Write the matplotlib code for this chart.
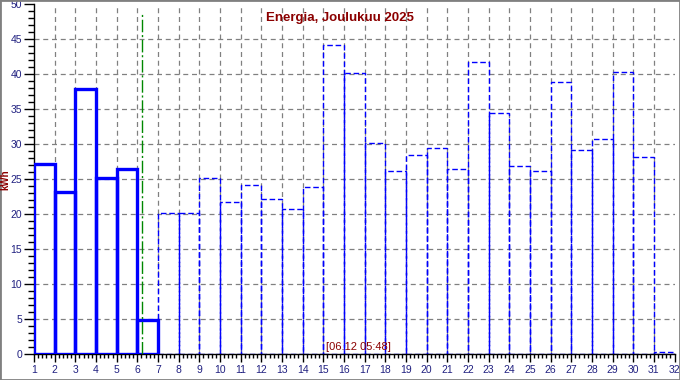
import matplotlib
matplotlib.use("Agg")
import matplotlib.pyplot as plt
from matplotlib.patches import Rectangle
from matplotlib.ticker import MultipleLocator

# ---------------------------------------------------------------------------
# Data
# ---------------------------------------------------------------------------
measured_days = [1, 2, 3, 4, 5, 6]
measured_kwh = [27.1, 23.1, 37.9, 25.2, 26.4, 4.9]

forecast_days = list(range(7, 32))
forecast_kwh = [20.2, 20.2, 25.2, 21.7, 24.1, 22.2, 20.7, 23.9, 44.1, 40.1,
                30.1, 26.1, 28.4, 29.4, 26.5, 41.7, 34.4, 26.9, 26.1, 38.9,
                29.1, 30.7, 40.3, 28.1, 0.3]

now_day = 6.24
now_label = "[06.12 05:48]"
title = "Energia, Joulukuu 2025"
y_label = "kWh"

# ---------------------------------------------------------------------------
# Styles
# ---------------------------------------------------------------------------
BLUE = "#0000ff"
DARK_RED = "#8b0000"
TICK_COLOR = "#202080"
GRID_COLOR = "#808080"

plt.rcParams["font.family"] = ["Liberation Sans", "DejaVu Sans"]

fig = plt.figure(figsize=(6.8, 3.8), dpi=100)
ax = fig.add_axes([34 / 680, 26 / 380, (674.5 - 34) / 680, 350 / 380])

ax.set_xlim(1, 32)
ax.set_ylim(0, 50)

# grid
for d in range(2, 32):
    ax.axvline(d, color=GRID_COLOR, lw=0.9, ls=(0, (4, 3)), zorder=1)
for v in range(5, 50, 5):
    ax.axhline(v, color=GRID_COLOR, lw=0.9, ls=(0, (4, 3)), zorder=1)

# measured days: thick solid outlines
ax.bar(measured_days, measured_kwh, width=1, align="edge", fill=False,
       edgecolor=BLUE, linewidth=2.4, zorder=3)

# remaining days: thin dashed outlines
ax.bar(forecast_days, forecast_kwh, width=1, align="edge", fill=False,
       edgecolor=BLUE, linewidth=1, linestyle=(0, (4, 2)), zorder=2)

# "now" marker
ax.plot([now_day, now_day], [0, 48.8], color="#008800", lw=1,
        ls=(0, (9, 2, 1.5, 2)), zorder=4)

# ticks
ax.xaxis.set_major_locator(MultipleLocator(1))
ax.xaxis.set_minor_locator(MultipleLocator(0.2))
ax.yaxis.set_major_locator(MultipleLocator(5))
ax.yaxis.set_minor_locator(MultipleLocator(1))
ax.tick_params(axis="both", which="major", labelsize=7.5, labelcolor=TICK_COLOR,
               color="black", width=1)
ax.tick_params(axis="x", which="major", length=6, pad=2)
ax.tick_params(axis="x", which="minor", length=3, width=1)
ax.tick_params(axis="y", which="major", length=7, pad=1.5)
ax.tick_params(axis="y", which="minor", length=4, width=1)

for side in ("top", "right"):
    ax.spines[side].set_visible(False)
for side in ("left", "bottom"):
    ax.spines[side].set_color("black")
    ax.spines[side].set_linewidth(1)

# texts
fig.text(0.5, 1 - 18 / 380, title, ha="center", va="center",
         fontsize=9.5, fontweight="bold", color=DARK_RED)
fig.text(5 / 680, 1 - 180 / 380, y_label, ha="center", va="center",
         rotation=90, fontsize=7, fontweight="bold", color=DARK_RED)
ax.text(16.7, 0.3, now_label, ha="center", va="bottom", fontsize=8,
        color=DARK_RED, zorder=5)

# figure frame
fig.patches.append(Rectangle((0, 0), 1, 1, transform=fig.transFigure,
                             fill=False, edgecolor="#808080", lw=2))

fig.savefig("out.png", dpi=100)
